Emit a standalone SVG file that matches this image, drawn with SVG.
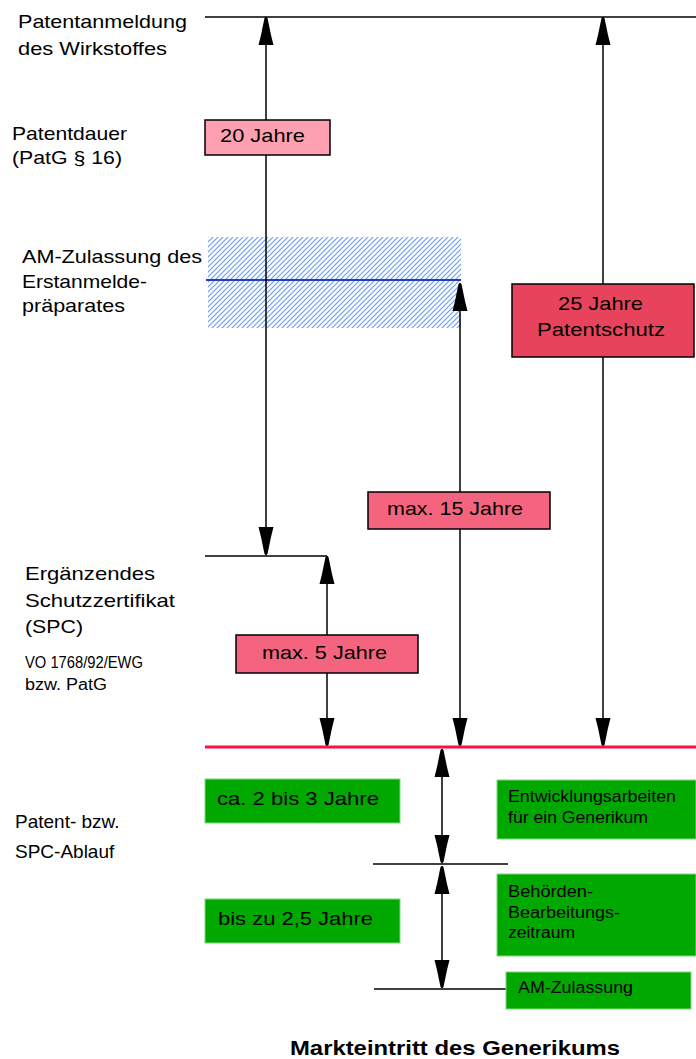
<svg xmlns="http://www.w3.org/2000/svg" width="696" height="1059" viewBox="0 0 696 1059">
<style>
text{font-family:"Liberation Sans",Arial,sans-serif;fill:#000}
.lbl{font-size:19px}
.sm{font-size:16px}
.gt{font-size:16px}
.ln{stroke:#000;stroke-width:1.5;fill:none}
.arr{stroke:#000;stroke-width:1.5;fill:none;marker-start:url(#ah);marker-end:url(#ah)}
.pbox{stroke:#000;stroke-width:1.5}
.gbox{fill:#00a800;stroke:#7fd87f;stroke-width:1}
</style>
<defs>
<marker id="ah" viewBox="0 0 28 16" markerWidth="28" markerHeight="16" refX="28" refY="8" markerUnits="userSpaceOnUse" orient="auto-start-reverse">
<path d="M0,0.5 L10,3 L27,6.5 L28,8 L27,9.5 L10,13 L0,15.5 Z" fill="#000"/>
</marker>
<pattern id="hatch" patternUnits="userSpaceOnUse" width="5" height="5">
<path d="M-1,6 L6,-1 M-1,1 L1,-1 M4,6 L6,4" stroke="#6e9cf2" stroke-width="1.2"/>
</pattern>
</defs>

<g id="hatched-area">
<rect x="208" y="237" width="253" height="91" fill="url(#hatch)"/>
<line x1="206" y1="280" x2="461" y2="280" stroke="#1f3fbf" stroke-width="2"/>
</g>

<g id="connectors">
<line class="ln" x1="205" y1="17" x2="696" y2="17"/>
<line class="arr" x1="266" y1="17" x2="266" y2="555"/>
<line class="arr" x1="603" y1="17" x2="603" y2="746"/>
<line class="arr" x1="460" y1="283" x2="460" y2="746"/>
<line class="ln" x1="205" y1="556" x2="327" y2="556"/>
<line class="arr" x1="327" y1="556" x2="327" y2="746"/>
<line x1="205" y1="747" x2="696" y2="747" stroke="#ff1040" stroke-width="3"/>
<line class="arr" x1="442" y1="749" x2="442" y2="863"/>
<line class="ln" x1="373" y1="864" x2="508" y2="864"/>
<line class="arr" x1="442" y1="866" x2="442" y2="988"/>
<line class="ln" x1="374" y1="989" x2="507" y2="989"/>
</g>

<g id="label-patentanmeldung">
<text class="lbl" x="18" y="28" textLength="169" lengthAdjust="spacingAndGlyphs">Patentanmeldung</text>
<text class="lbl" x="18" y="55" textLength="149" lengthAdjust="spacingAndGlyphs">des Wirkstoffes</text>
</g>
<g id="label-patentdauer">
<text class="lbl" x="12" y="140" textLength="115" lengthAdjust="spacingAndGlyphs">Patentdauer</text>
<text class="lbl" x="12" y="164" textLength="110" lengthAdjust="spacingAndGlyphs">(PatG § 16)</text>
</g>
<g id="label-am-zulassung">
<text class="lbl" x="22" y="263" textLength="180" lengthAdjust="spacingAndGlyphs">AM-Zulassung des</text>
<text class="lbl" x="22" y="288" textLength="125" lengthAdjust="spacingAndGlyphs">Erstanmelde-</text>
<text class="lbl" x="22" y="312" textLength="103" lengthAdjust="spacingAndGlyphs">präparates</text>
</g>
<g id="label-spc">
<text class="lbl" x="25" y="580" textLength="130" lengthAdjust="spacingAndGlyphs">Ergänzendes</text>
<text class="lbl" x="25" y="607" textLength="150" lengthAdjust="spacingAndGlyphs">Schutzzertifikat</text>
<text class="lbl" x="25" y="633" textLength="58" lengthAdjust="spacingAndGlyphs">(SPC)</text>
<text class="sm" x="25" y="668" textLength="118" lengthAdjust="spacingAndGlyphs">VO 1768/92/EWG</text>
<text class="sm" x="25" y="690" textLength="82" lengthAdjust="spacingAndGlyphs">bzw. PatG</text>
</g>
<g id="label-ablauf">
<text class="lbl" x="15" y="828">Patent- bzw.</text>
<text class="lbl" x="15" y="858">SPC-Ablauf</text>
</g>

<g id="box-20-jahre">
<rect class="pbox" x="205" y="120" width="125" height="35" fill="#ffa0b2"/>
<text class="lbl" x="220" y="142" textLength="85" lengthAdjust="spacingAndGlyphs">20 Jahre</text>
</g>
<g id="box-25-jahre">
<rect class="pbox" x="512" y="284" width="182" height="73" fill="#e8435c"/>
<text class="lbl" x="558" y="310" textLength="85" lengthAdjust="spacingAndGlyphs">25 Jahre</text>
<text class="lbl" x="537" y="336" textLength="128" lengthAdjust="spacingAndGlyphs">Patentschutz</text>
</g>
<g id="box-max-15">
<rect class="pbox" x="368" y="492" width="182" height="37" fill="#f5647f"/>
<text class="lbl" x="387" y="515" textLength="136" lengthAdjust="spacingAndGlyphs">max. 15 Jahre</text>
</g>
<g id="box-max-5">
<rect class="pbox" x="236" y="635" width="182" height="38" fill="#f5647f"/>
<text class="lbl" x="262" y="659" textLength="125" lengthAdjust="spacingAndGlyphs">max. 5 Jahre</text>
</g>

<g id="box-ca-2-3">
<rect class="gbox" x="205" y="779" width="195" height="44"/>
<text class="lbl" x="217" y="805" textLength="162" lengthAdjust="spacingAndGlyphs">ca. 2 bis 3 Jahre</text>
</g>
<g id="box-bis-2-5">
<rect class="gbox" x="205" y="899" width="195" height="44"/>
<text class="lbl" x="218" y="925" textLength="155" lengthAdjust="spacingAndGlyphs">bis zu 2,5 Jahre</text>
</g>
<g id="box-entwicklung">
<rect class="gbox" x="497" y="780" width="199" height="59"/>
<text class="gt" x="508" y="802" textLength="168" lengthAdjust="spacingAndGlyphs">Entwicklungsarbeiten</text>
<text class="gt" x="508" y="823" textLength="140" lengthAdjust="spacingAndGlyphs">für ein Generikum</text>
</g>
<g id="box-behoerden">
<rect class="gbox" x="497" y="874" width="199" height="82"/>
<text class="gt" x="508" y="897" textLength="85" lengthAdjust="spacingAndGlyphs">Behörden-</text>
<text class="gt" x="508" y="918" textLength="112" lengthAdjust="spacingAndGlyphs">Bearbeitungs-</text>
<text class="gt" x="508" y="938" textLength="67" lengthAdjust="spacingAndGlyphs">zeitraum</text>
</g>
<g id="box-am-zulassung">
<rect class="gbox" x="506" y="972" width="185" height="37"/>
<text class="gt" x="518" y="993" textLength="115" lengthAdjust="spacingAndGlyphs">AM-Zulassung</text>
</g>

<g id="title-markteintritt">
<text x="290" y="1055" font-size="20" font-weight="bold" textLength="330" lengthAdjust="spacingAndGlyphs">Markteintritt des Generikums</text>
</g>
</svg>
